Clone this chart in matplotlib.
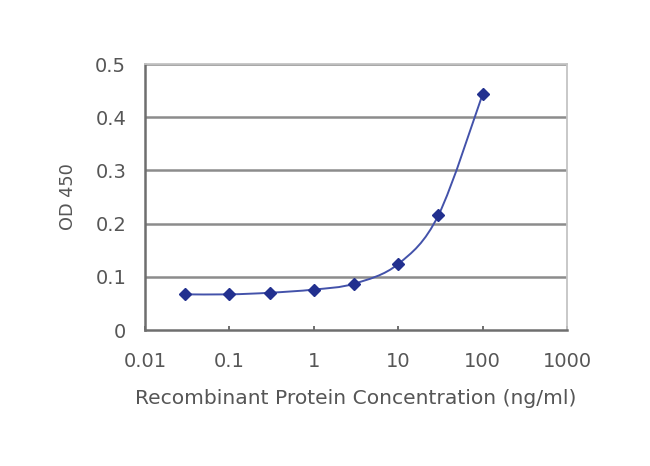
import numpy as np
import matplotlib
matplotlib.use("Agg")
import matplotlib.pyplot as plt
from matplotlib.path import Path
from matplotlib.patches import PathPatch

conc = [0.03, 0.1, 0.3, 1, 3, 10, 30, 100]
od450 = [0.067, 0.067, 0.070, 0.076, 0.087, 0.124, 0.216, 0.443]
xticks = [0.01, 0.1, 1, 10, 100, 1000]
xtick_labels = ["0.01", "0.1", "1", "10", "100", "1000"]
yticks = [0, 0.1, 0.2, 0.3, 0.4, 0.5]
ytick_labels = ["0", "0.1", "0.2", "0.3", "0.4", "0.5"]

plt.rcParams['font.family'] = ['DejaVu Sans']
txt = '#565656'

fig = plt.figure(figsize=(6.5, 4.66), dpi=100)
ax = fig.add_axes([145/650, 1-330/466, (567-145)/650, (330-64)/466])
ax.set_xscale('log')
ax.set_xlim(0.01, 1000)
ax.set_ylim(0, 0.5)

for y in yticks[1:]:
    ax.axhline(y, color='#8c8c8c', lw=1.8, zorder=1)

# smooth curve (Excel-style Catmull-Rom Bezier) built in log-x / y space
lx = np.log10(conc)
ys = np.array(od450)
pts = np.column_stack([lx, ys])
verts = [pts[0]]
codes = [Path.MOVETO]
n = len(pts)
for i in range(n - 1):
    p0 = pts[i - 1] if i > 0 else pts[i]
    p1 = pts[i]
    p2 = pts[i + 1]
    p3 = pts[i + 2] if i + 2 < n else pts[i + 1]
    c1 = p1 + (p2 - p0) / 6.0
    c2 = p2 - (p3 - p1) / 6.0
    verts += [c1, c2, p2]
    codes += [Path.CURVE4] * 3
verts = np.array(verts)
verts[:, 0] = 10 ** verts[:, 0]
patch = PathPatch(Path(verts, codes), facecolor='none', edgecolor='#4352aa', lw=1.4, zorder=3)
ax.add_patch(patch)
ax.plot(conc, od450, linestyle='none', marker='D', ms=6, color='#22308f', zorder=4)

ax.set_xticks(xticks)
ax.set_xticklabels(xtick_labels)
ax.minorticks_off()
ax.set_yticks(yticks)
ax.set_yticklabels(ytick_labels)
ax.tick_params(axis='x', direction='in', length=3, width=1.2, color='#555555',
               labelsize=14, labelcolor=txt, pad=16)
ax.tick_params(axis='y', length=0, labelsize=14, labelcolor=txt, pad=13.5)

for s in ['left', 'bottom']:
    ax.spines[s].set_color('#6e6e6e')
    ax.spines[s].set_linewidth(1.8)
for s in ['top', 'right']:
    ax.spines[s].set_color('#c4c4c4')
    ax.spines[s].set_linewidth(1.3)

ax.set_xlabel('Recombinant Protein Concentration (ng/ml)', fontsize=14.6, color=txt, labelpad=12.5)
ax.set_ylabel('OD 450', fontsize=12.8, color=txt, labelpad=13)

fig.savefig('out.png', dpi=100)
